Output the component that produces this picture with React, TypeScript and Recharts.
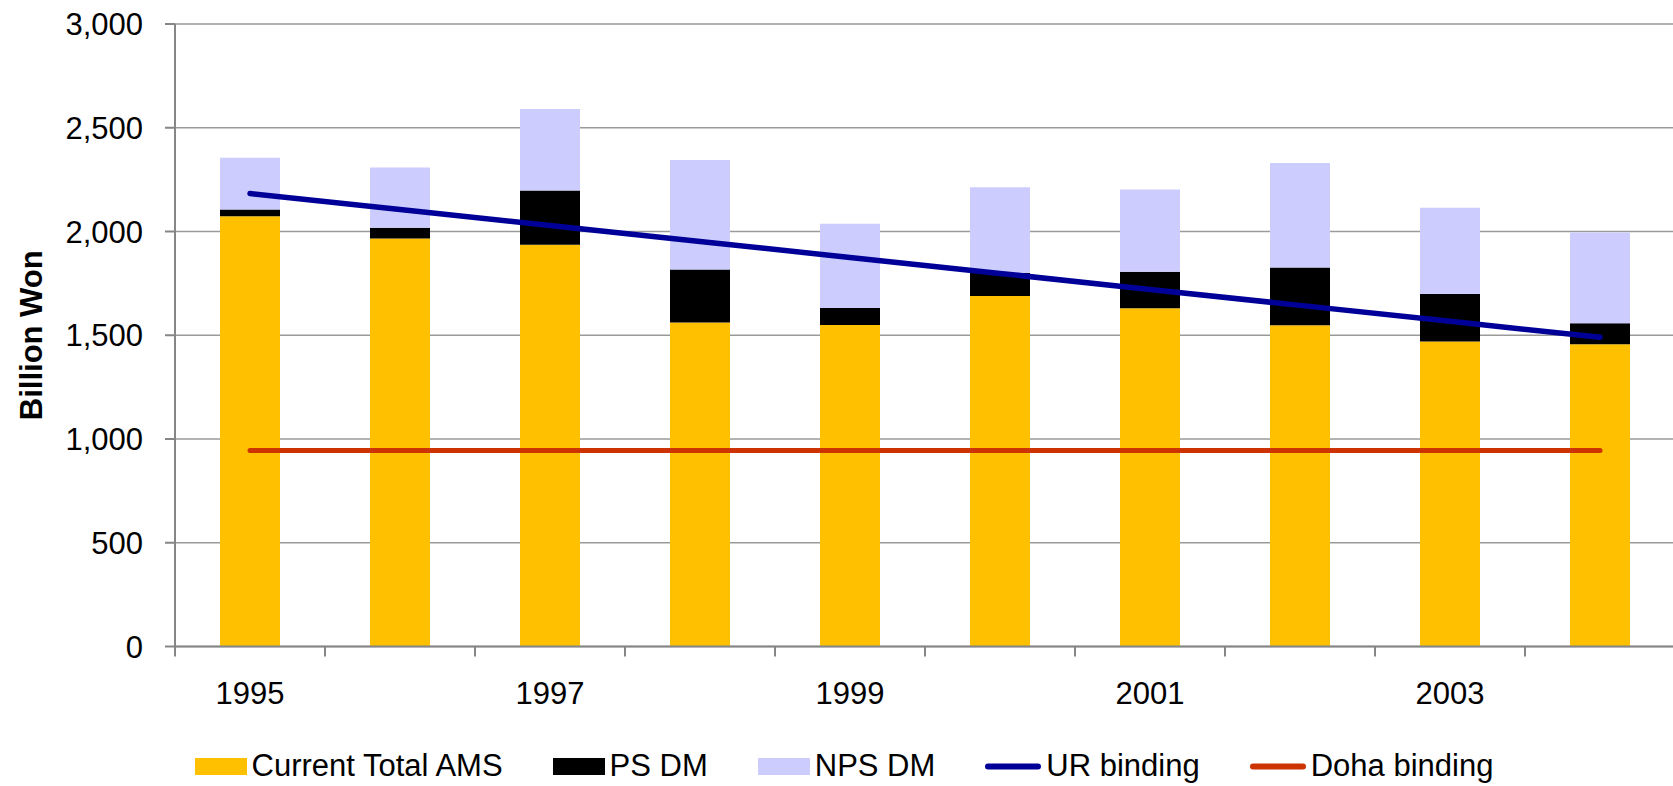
import {
  ComposedChart,
  Bar,
  Line,
  XAxis,
  YAxis,
  CartesianGrid,
  Legend,
  Label,
} from "recharts";

const FONT = '"Liberation Sans", Arial, sans-serif';
const FONT_SIZE = 31;

const years = ["1995", "1996", "1997", "1998", "1999", "2000", "2001", "2002", "2003", "2004"];
const currentTotalAms = [2074, 1966, 1936, 1561, 1550, 1689, 1630, 1548, 1470, 1457];
const psDm = [32, 52, 261, 256, 81, 111, 176, 279, 229, 101];
const npsDm = [250, 291, 393, 528, 406, 413, 396, 503, 415, 437];
const urBinding = [2183, 2106, 2029, 1952, 1875, 1798, 1721, 1644, 1567, 1490];
const dohaBinding = [945, 945, 945, 945, 945, 945, 945, 945, 945, 945];
const yTicks = [0, 500, 1000, 1500, 2000, 2500, 3000];
const labelledYears = ["1995", "1997", "1999", "2001", "2003"];
const legendOrder = ["Current Total AMS", "PS DM", "NPS DM", "UR binding", "Doha binding"];

const data = years.map((year, i) => ({
  year,
  ams: currentTotalAms[i],
  ps: psDm[i],
  nps: npsDm[i],
  ur: urBinding[i],
  doha: dohaBinding[i],
}));

export default function App() {
  return (
    <div
      style={{
        position: "absolute",
        left: 0,
        top: 0,
        width: 1673,
        height: 786,
        overflow: "hidden",
        background: "#fff",
        fontFamily: FONT,
      }}
    >
      <ComposedChart
        width={1680}
        height={786}
        data={data}
        margin={{ top: 24, right: 5, left: 0, bottom: 0 }}
        barSize={60}
      >
        <CartesianGrid vertical={false} stroke="#9a9a9a" strokeWidth={1.5} />
        <XAxis
          dataKey="year"
          interval={0}
          height={99.5}
          tickSize={0}
          tickMargin={0}
          tickLine={false}
          axisLine={{ stroke: "#868686", strokeWidth: 2 }}
          tick={<YearTick />}
        />
        <YAxis
          domain={[0, 3000]}
          ticks={yTicks}
          interval={0}
          width={175}
          tickSize={10}
          tickMargin={22}
          tickFormatter={(v: number) => v.toLocaleString("en-US")}
          tick={{ fontSize: FONT_SIZE, fill: "#000", fontFamily: FONT }}
          axisLine={{ stroke: "#868686", strokeWidth: 2 }}
          tickLine={{ stroke: "#868686", strokeWidth: 2 }}
        >
          <Label
            content={({ viewBox }: any) => {
              const cy = viewBox.y + viewBox.height / 2;
              return (
                <text
                  x={31}
                  y={cy}
                  transform={`rotate(-90, 31, ${cy})`}
                  textAnchor="middle"
                  dominantBaseline="central"
                  fontSize={FONT_SIZE}
                  fontWeight="bold"
                  fontFamily={FONT}
                  fill="#000"
                >
                  Billion Won
                </text>
              );
            }}
          />
        </YAxis>
        <Legend
          verticalAlign="bottom"
          wrapperStyle={{ left: 0, width: 1680, bottom: 0 }}
          content={<ChartLegend />}
        />
        <Bar dataKey="ams" name="Current Total AMS" stackId="a" fill="#FFC000" legendType="rect" isAnimationActive={false} />
        <Bar dataKey="ps" name="PS DM" stackId="a" fill="#000000" legendType="rect" isAnimationActive={false} />
        <Bar dataKey="nps" name="NPS DM" stackId="a" fill="#CCCCFF" legendType="rect" isAnimationActive={false} />
        <Line
          type="linear"
          dataKey="ur"
          name="UR binding"
          stroke="#000099"
          strokeWidth={5.5}
          strokeLinecap="round"
          dot={false}
          activeDot={false}
          legendType="line"
          isAnimationActive={false}
        />
        <Line
          type="linear"
          dataKey="doha"
          name="Doha binding"
          stroke="#CC3300"
          strokeWidth={5}
          strokeLinecap="round"
          dot={false}
          activeDot={false}
          legendType="line"
          isAnimationActive={false}
        />
      </ComposedChart>
    </div>
  );
}

// category ticks sit on the band edges, labels only on every other year
function YearTick({ x, y, payload }: any) {
  const half = payload?.offset ?? 75;
  return (
    <g>
      <line x1={x - half} y1={y} x2={x - half} y2={y + 10} stroke="#868686" strokeWidth={2} />
      {labelledYears.includes(payload.value) && (
        <text x={x} y={y + 57.5} textAnchor="middle" fontSize={FONT_SIZE} fontFamily={FONT} fill="#000">
          {payload.value}
        </text>
      )}
    </g>
  );
}

function ChartLegend({ payload }: any) {
  const items = [...(payload ?? [])].sort(
    (a: any, b: any) => legendOrder.indexOf(a.value) - legendOrder.indexOf(b.value)
  );
  return (
    <div
      style={{
        display: "flex",
        justifyContent: "center",
        alignItems: "center",
        height: 40,
        gap: 50,
        paddingLeft: 8,
        fontSize: FONT_SIZE,
        fontFamily: FONT,
        color: "#000",
      }}
    >
      {items.map((item: any) => (
        <div key={item.value} style={{ display: "flex", alignItems: "center" }}>
          {item.type === "line" ? (
            <svg width={56} height={17}>
              <line x1={3} y1={8.5} x2={53} y2={8.5} stroke={item.color} strokeWidth={6} strokeLinecap="round" />
            </svg>
          ) : (
            <div style={{ width: 52, height: 17, background: item.color }} />
          )}
          <span style={{ marginLeft: 5, lineHeight: "40px" }}>{item.value}</span>
        </div>
      ))}
    </div>
  );
}
